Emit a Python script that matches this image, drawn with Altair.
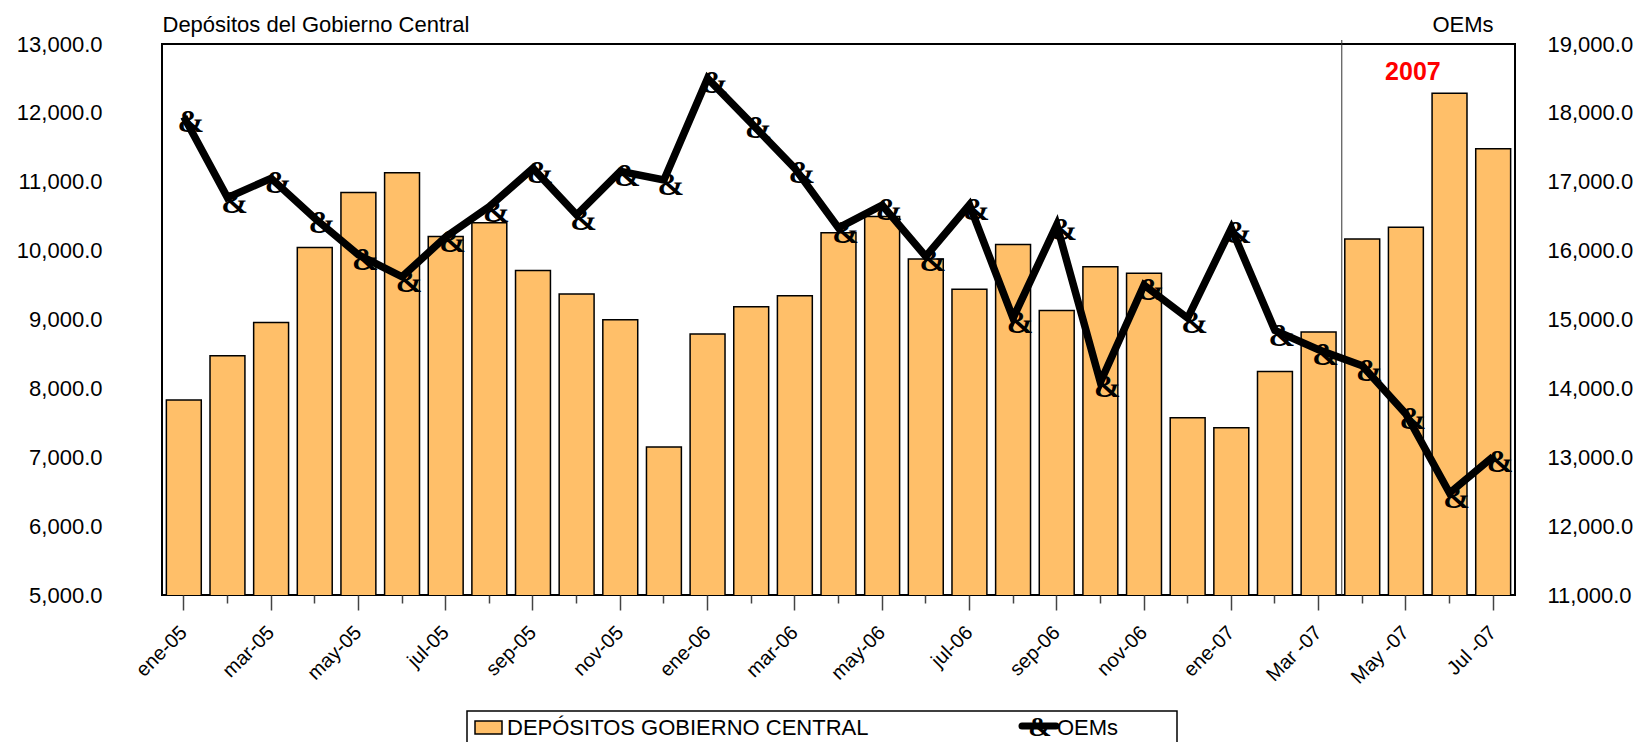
import json
import altair as alt
import pandas as pd

# Monthly series, Jan 2005 - Jul 2007
months = [
    "ene-05", "feb-05", "mar-05", "abr-05", "may-05", "jun-05", "jul-05", "ago-05",
    "sep-05", "oct-05", "nov-05", "dic-05",
    "ene-06", "feb-06", "mar-06", "abr-06", "may-06", "jun-06", "jul-06", "ago-06",
    "sep-06", "oct-06", "nov-06", "dic-06",
    "ene-07", "Feb -07", "Mar -07", "Abr -07", "May -07", "Jun -07", "Jul -07",
]
depositos = [
    7830, 8475, 8955, 10045, 10845, 11130, 10205, 10405, 9710, 9370, 8995, 7150,
    8790, 9185, 9345, 10260, 10495, 9880, 9440, 10090, 9130, 9765, 9670, 7575,
    7430, 8245, 8820, 10170, 10340, 12285, 11480,
]
oems = [
    17945, 16770, 17050, 16470, 15940, 15620, 16200, 16640, 17195, 16520, 17150, 17025,
    18500, 17850, 17195, 16330, 16660, 15915, 16665, 15020, 16375, 14090, 15500, 15020,
    16325, 14840, 14560, 14330, 13630, 12480, 13010,
]
labeled = months[::2]

left_ticks = list(range(5000, 13001, 1000))
right_ticks = list(range(11000, 19001, 1000))

BAR_FILL = "#FFBF69"
FONT = "Liberation Sans"

df = pd.DataFrame({"mes": months, "depositos": depositos, "oems": oems})
note = pd.DataFrame({"mes": ["May -07"], "depositos": [12480], "t": ["2007"]})
split = pd.DataFrame({"mes": ["Abr -07"]})
one = pd.DataFrame({"k": [0]})

labeled_js = json.dumps(labeled)
x_scale = alt.Scale(paddingInner=0.2, paddingOuter=0.1)
x_axis = alt.Axis(
    title=None,
    labelAngle=-45,
    labelExpr=f"indexof({labeled_js}, datum.value) >= 0 ? datum.value : ''",
    tickSize={"condition": {"test": f"indexof({labeled_js}, datum.value) >= 0", "value": 15}, "value": 8},
    tickColor="#444444",
    tickWidth=1.5,
    labelPadding=12,
    labelOffset=-7,
    labelFontSize=20,
    labelFont=FONT,
    labelColor="black",
    domain=False,
    grid=False,
)

y_left = alt.Y(
    "depositos:Q",
    scale=alt.Scale(domain=[5000, 13000], nice=False, zero=False),
    axis=alt.Axis(
        values=left_ticks, format=",.1f", title="Depósitos del Gobierno Central",
        titleAngle=0, titleX=0, titleY=-13, titleAlign="left", titleBaseline="alphabetic",
        titleFont=FONT, titleFontSize=22, titleFontWeight="normal", titleColor="black",
        labelFont=FONT, labelFontSize=22, labelColor="black", labelPadding=60,
        ticks=False, domain=False, grid=False,
    ),
)
y_right = alt.Y(
    "oems:Q",
    scale=alt.Scale(domain=[11000, 19000], nice=False, zero=False),
    axis=alt.Axis(
        orient="right", values=right_ticks, format=",.1f", title="OEMs",
        titleAngle=0, titleX=-22, titleY=-13, titleAlign="right", titleBaseline="alphabetic",
        titleFont=FONT, titleFontSize=22, titleFontWeight="normal", titleColor="black",
        labelFont=FONT, labelFontSize=22, labelColor="black", labelPadding=32,
        ticks=False, domain=False, grid=False,
    ),
)

bars = alt.Chart(df).mark_bar(fill=BAR_FILL, stroke="black", strokeWidth=1.5, clip=True).encode(
    x=alt.X("mes:N", sort=months, scale=x_scale, axis=x_axis),
    y=y_left,
)

year_label = alt.Chart(note).mark_text(
    color="#FF0000", font=FONT, fontWeight="bold", fontSize=25, baseline="alphabetic", dx=7
).encode(
    x=alt.X("mes:N", sort=months, bandPosition=0.5),
    y=alt.Y("depositos:Q"),
    text="t:N",
)

divider = alt.Chart(split).mark_rule(color="#333333", strokeWidth=1, xOffset=-3).encode(
    x=alt.X("mes:N", sort=months, bandPosition=0),
    y=alt.value(-4),
    y2=alt.value(551),
)

# legend drawn below the plot
leg_box = alt.Chart(one).mark_rect(fill="white", stroke="black", strokeWidth=1.5).encode(
    x=alt.value(305), x2=alt.value(1015), y=alt.value(667), y2=alt.value(740)
)
leg_swatch = alt.Chart(one).mark_rect(fill=BAR_FILL, stroke="black", strokeWidth=1.5).encode(
    x=alt.value(313), x2=alt.value(340), y=alt.value(677), y2=alt.value(690)
)
leg_text1 = alt.Chart(one).mark_text(
    text="DEPÓSITOS GOBIERNO CENTRAL", font=FONT, fontSize=22, align="left", baseline="alphabetic", color="black"
).encode(x=alt.value(345), y=alt.value(691))
leg_line = alt.Chart(one).mark_rule(color="black", strokeWidth=7, strokeCap="round").encode(
    x=alt.value(860), x2=alt.value(894), y=alt.value(682)
)
leg_amp = alt.Chart(one).mark_text(
    text="&", font="Liberation Serif", fontWeight="bold", fontSize=28, baseline="middle", color="black"
).encode(x=alt.value(878), y=alt.value(684))
leg_text2 = alt.Chart(one).mark_text(
    text="OEMs", font=FONT, fontSize=22, align="left", baseline="alphabetic", color="black"
).encode(x=alt.value(895), y=alt.value(691))

left = alt.layer(bars, divider, year_label, leg_box, leg_swatch, leg_text1, leg_line, leg_amp, leg_text2)

line = alt.Chart(df).mark_line(color="black", strokeWidth=7.5).encode(
    x=alt.X("mes:N", sort=months, bandPosition=0.5),
    y=y_right,
)
markers = alt.Chart(df).mark_text(
    text="&", font="Liberation Serif", fontWeight="bold", fontSize=32, baseline="middle",
    color="black", dx=7, dy=5,
).encode(
    x=alt.X("mes:N", sort=months, bandPosition=0.5),
    y=alt.Y("oems:Q"),
)
right = alt.layer(line, markers)

chart = (
    alt.layer(left, right)
    .resolve_scale(y="independent")
    .properties(
        width=1353,
        height=551,
        padding={"left": 162, "top": 44, "right": 124, "bottom": 147},
        autosize=alt.AutoSizeParams(type="none"),
        background="white",
    )
    .configure_view(stroke="black", strokeWidth=2)
)

chart.save("out.html", embed_options={"renderer": "svg", "actions": False})
